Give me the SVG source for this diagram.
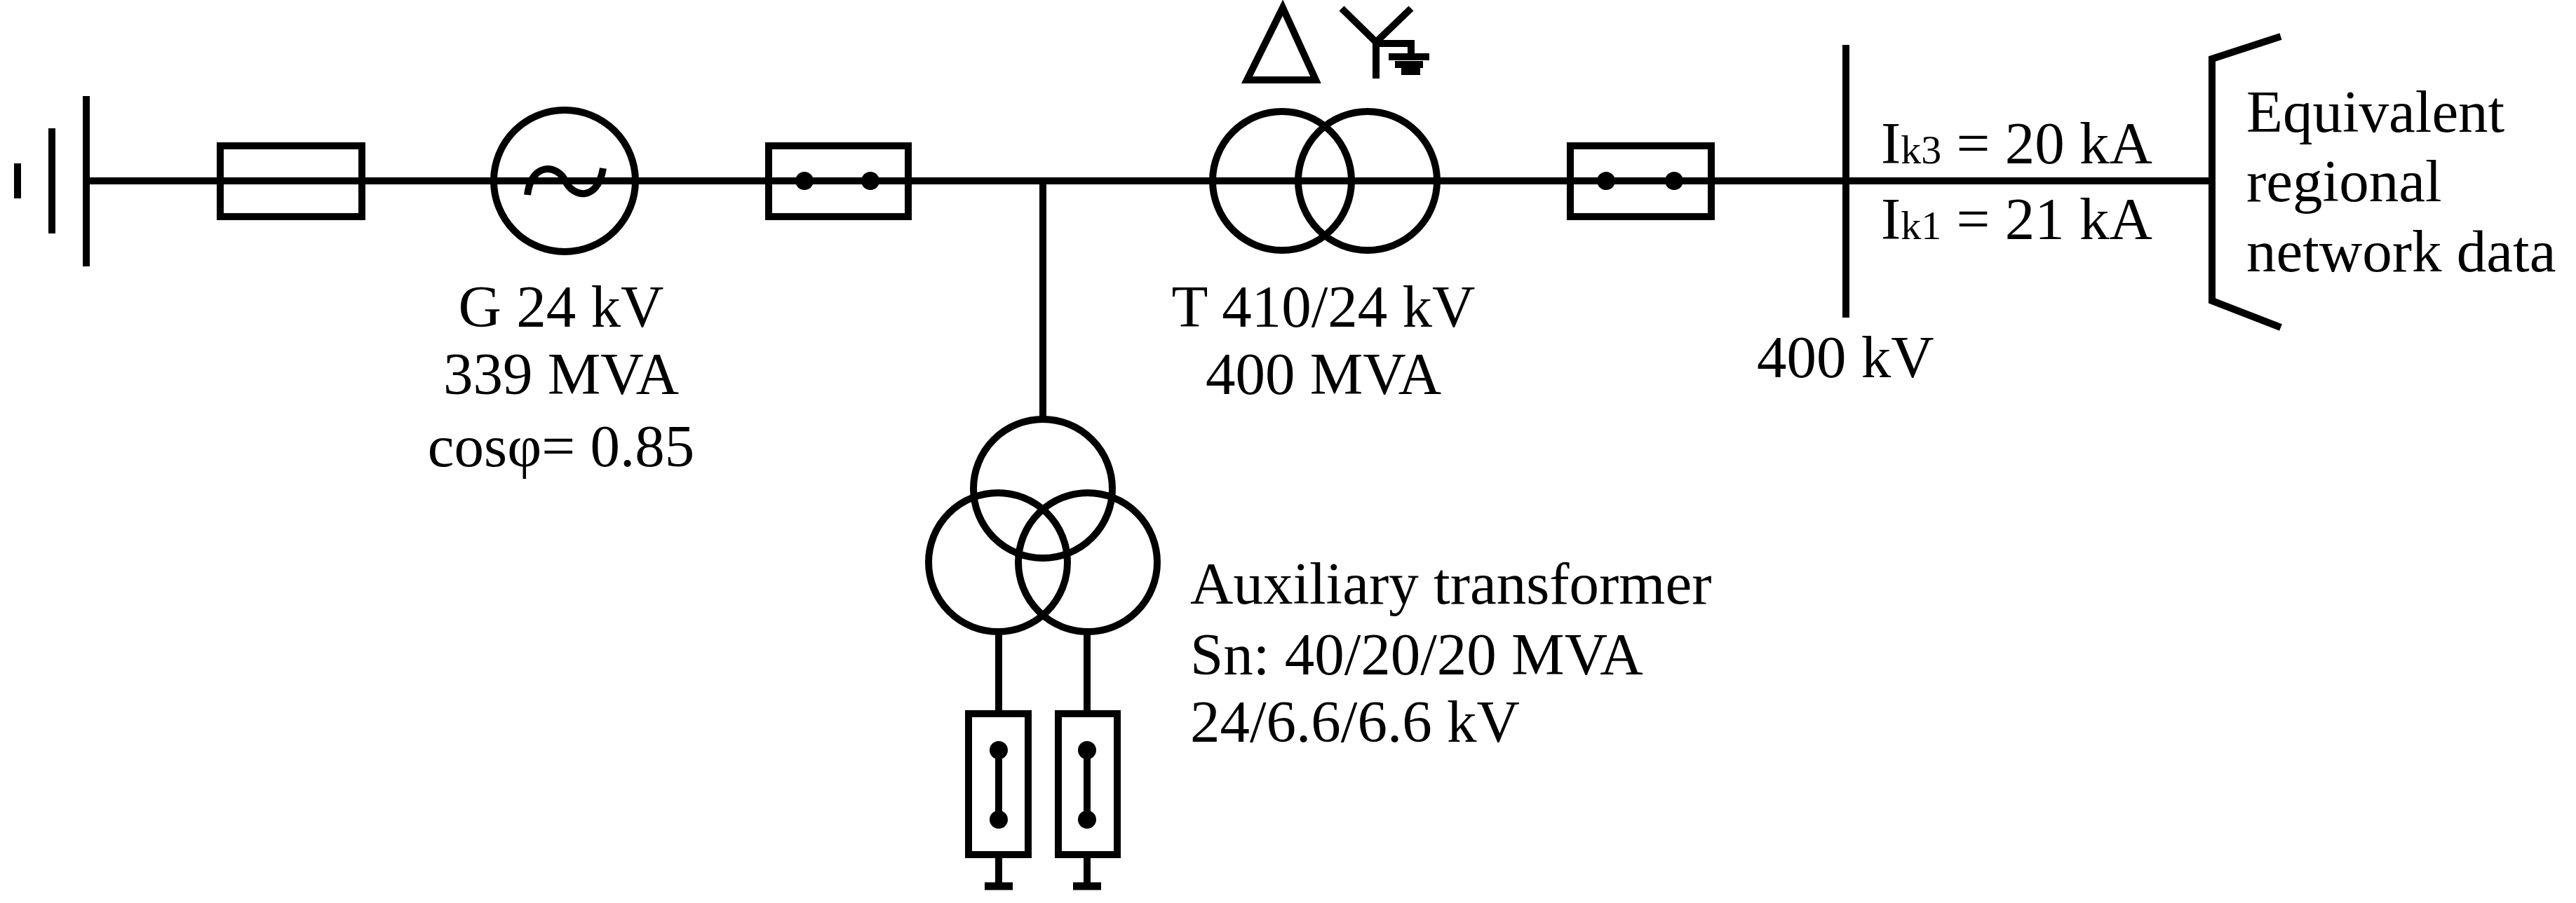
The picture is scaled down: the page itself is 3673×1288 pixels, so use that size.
<svg xmlns="http://www.w3.org/2000/svg" width="3673" height="1288" viewBox="0 0 3673 1288">
<style>
.l{stroke:#000;stroke-width:10;fill:none}
.d{fill:#000}
text{font-family:"Liberation Serif","Times New Roman",serif;font-size:85px;fill:#000}
.s{font-size:58px}
</style>
<rect width="3673" height="1288" fill="#fff"/>
<g id="connectors">
<line class="l" x1="123" y1="258" x2="3154" y2="258"/>
<line class="l" x1="1487" y1="258" x2="1487" y2="597"/>
<line class="l" x1="1424" y1="902" x2="1424" y2="1018"/>
<line class="l" x1="1550" y1="902" x2="1550" y2="1018"/>
</g>
<g id="ground">
<line class="l" x1="25" y1="233" x2="25" y2="283"/>
<line class="l" x1="74" y1="183" x2="74" y2="333"/>
<line class="l" x1="123" y1="137" x2="123" y2="380"/>
</g>
<g id="fuse"><rect class="l" x="314" y="208" width="202" height="101"/></g>
<g id="generator">
<circle class="l" cx="805" cy="258" r="101" fill="#fff"/>
<path class="l" stroke-width="13" d="M752 278 C758 230 795 235 806 258 C817 282 852 288 860 240"/>
<text x="800" y="466" text-anchor="middle">G 24 kV</text>
<text x="800" y="562" text-anchor="middle">339 MVA</text>
<text x="800" y="665" text-anchor="middle">cosφ= 0.85</text>
</g>
<g id="breaker1">
<rect class="l" x="1096" y="208" width="199" height="101"/>
<circle class="d" cx="1147" cy="258" r="13"/><circle class="d" cx="1241" cy="258" r="13"/>
</g>
<g id="transformer">
<circle class="l" cx="1828" cy="258" r="99"/>
<circle class="l" cx="1950" cy="258" r="99"/>
<path class="l" stroke-width="8" d="M1829 11 L1876 114 L1778 114 Z"/>
<path class="l" stroke-width="8" d="M1913 12 L1962 60 L2012 12 M1962 60 L1962 112 M1962 62 L2012 62 L2012 81"/>
<line class="l" x1="1980" y1="81" x2="2038" y2="81"/>
<line class="l" x1="1989" y1="92" x2="2029" y2="92"/>
<line class="l" x1="1998" y1="102" x2="2025" y2="102"/>
<text x="1887" y="466" text-anchor="middle">T 410/24 kV</text>
<text x="1887" y="562" text-anchor="middle">400 MVA</text>
</g>
<g id="breaker2">
<rect class="l" x="2239" y="208" width="201" height="101"/>
<circle class="d" cx="2290" cy="258" r="13"/><circle class="d" cx="2387" cy="258" r="13"/>
</g>
<g id="bus400">
<line class="l" x1="2632" y1="64" x2="2632" y2="453"/>
<text x="2505" y="538">400 kV</text>
<text x="2682" y="233">I<tspan class="s">k3</tspan> = 20 kA</text>
<text x="2682" y="341">I<tspan class="s">k1</tspan> = 21 kA</text>
</g>
<g id="network">
<path class="l" stroke-width="12" d="M3252 52 L3154 84 L3154 429 L3252 467"/>
<text x="3203" y="188">Equivalent</text>
<text x="3203" y="287">regional</text>
<text x="3203" y="387">network data</text>
</g>
<g id="auxtransformer">
<circle class="l" cx="1487" cy="697" r="99"/>
<circle class="l" cx="1423" cy="802" r="99"/>
<circle class="l" cx="1551" cy="802" r="99"/>
<text x="1697" y="861">Auxiliary transformer</text>
<text x="1697" y="962">Sn: 40/20/20 MVA</text>
<text x="1697" y="1058">24/6.6/6.6 kV</text>
</g>
<g id="feeder1">
<rect class="l" x="1381" y="1018" width="85" height="201"/>
<circle class="d" cx="1424" cy="1070" r="13"/><circle class="d" cx="1424" cy="1169" r="13"/>
<line class="l" x1="1424" y1="1070" x2="1424" y2="1169" stroke-width="7"/>
<line class="l" x1="1424" y1="1219" x2="1424" y2="1263"/>
<line x1="1404" y1="1264" x2="1444" y2="1264" stroke="#000" stroke-width="11"/>
</g>
<g id="feeder2">
<rect class="l" x="1509" y="1018" width="84" height="201"/>
<circle class="d" cx="1550" cy="1070" r="13"/><circle class="d" cx="1550" cy="1169" r="13"/>
<line class="l" x1="1550" y1="1070" x2="1550" y2="1169" stroke-width="7"/>
<line class="l" x1="1550" y1="1219" x2="1550" y2="1263"/>
<line x1="1530" y1="1264" x2="1570" y2="1264" stroke="#000" stroke-width="11"/>
</g>
</svg>
